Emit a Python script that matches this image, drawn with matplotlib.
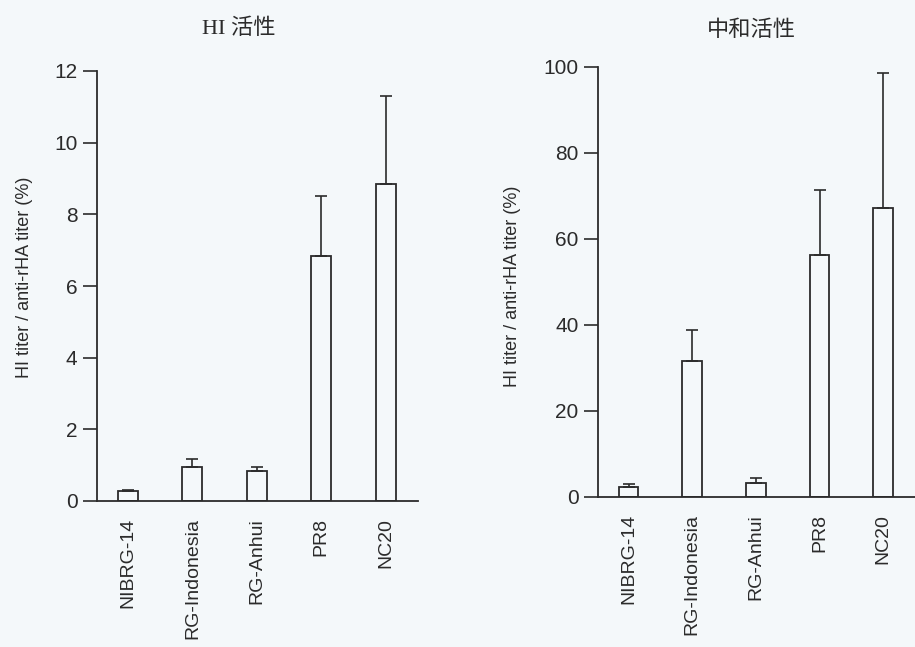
import matplotlib
matplotlib.use("Agg")
import matplotlib.pyplot as plt
import numpy as np

plt.rcParams['font.family'] = ['Liberation Sans', 'Noto Sans CJK SC', 'DejaVu Sans']

strains = ["NIBRG-14", "RG-Indonesia", "RG-Anhui", "PR8", "NC20"]

# HI activity (%)
hi_mean = [0.29, 0.94, 0.83, 6.84, 8.85]
hi_err = [0.03, 0.24, 0.11, 1.68, 2.46]

# Neutralizing activity (%)
nt_mean = [2.3, 31.6, 3.2, 56.2, 67.2]
nt_err = [0.8, 7.3, 1.2, 15.1, 31.4]

ylabel = "HI titer / anti-rHA titer (%)"
ink = "#2b2b2b"
bg = "#f4f8fa"

W, H = 915, 647
fig = plt.figure(figsize=(W / 100, H / 100), dpi=100, facecolor=bg)


def panel(rect, means, errs, ylim, yticks, title, title_family, title_pad,
          title_x, label_xy):
    ax = fig.add_axes(rect)
    ax.set_facecolor(bg)
    x = np.arange(len(strains))
    ax.bar(x, means, width=0.31, facecolor="none", edgecolor=ink, linewidth=1.3, zorder=3)
    ax.errorbar(x, means, yerr=[np.zeros(len(errs)), errs], fmt="none",
                ecolor=ink, elinewidth=1.2, capsize=4, capthick=1.2, zorder=2)
    ax.set_xlim(-0.48, 4.5)
    ax.set_ylim(*ylim)
    ax.set_yticks(yticks)
    ax.set_xticks(x)
    ax.set_xticklabels(strains, rotation=90, fontsize=14, color=ink)
    ax.tick_params(axis="x", length=0, pad=12)
    ax.tick_params(axis="y", length=10, width=1.2, color=ink, labelsize=15,
                   labelcolor=ink, pad=4)
    for s in ("top", "right"):
        ax.spines[s].set_visible(False)
    for s in ("left", "bottom"):
        ax.spines[s].set_linewidth(1.3)
        ax.spines[s].set_color(ink)
    ax.set_ylabel(ylabel, fontsize=13, color=ink)
    ax.yaxis.set_label_coords(*label_xy)
    t = ax.set_title(title, fontsize=16, color=ink, pad=title_pad, family=title_family)
    t.set_x(title_x)
    return ax


ax1 = panel([97 / W, 1 - 501 / H, 321 / W, 430 / H], hi_mean, hi_err,
            (0, 12), [0, 2, 4, 6, 8, 10, 12], "HI 活性",
            ['Liberation Serif', 'Noto Sans CJK SC'], 27, 0.442, (-0.199, 0.52))
ax2 = panel([598 / W, 1 - 497 / H, 317 / W, 430 / H], nt_mean, nt_err,
            (0, 100), [0, 20, 40, 60, 80, 100], "中和活性",
            ['Noto Sans CJK SC'], 22, 0.483, (-0.243, 0.49))

fig.savefig("out.png", dpi=100, facecolor=bg)
